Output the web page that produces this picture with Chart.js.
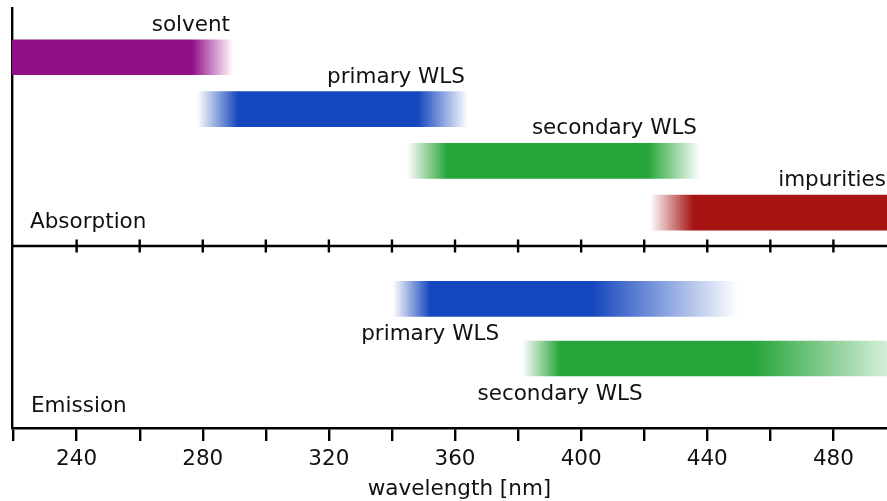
<!DOCTYPE html>
<html><head><meta charset="utf-8">
<script src="https://cdn.jsdelivr.net/npm/chart.js@4.4.0/dist/chart.umd.min.js"></script>
<style>
html,body{margin:0;padding:0;background:#fff;}
#wrap{position:relative;width:887px;height:501px;overflow:hidden;background:#fff;}
#c1{position:absolute;left:0;top:0;}
#c2{position:absolute;left:0;top:236px;}
</style></head><body>
<div id="wrap">
<canvas id="c1" width="887" height="256"></canvas>
<canvas id="c2" width="887" height="265"></canvas>
</div>
<script>
// ---- data (wavelength in nm) ----
const absCategories = ['solvent', 'primary WLS', 'secondary WLS', 'impurities'];
const absFadeStart  = [205,   278.2, 344.8, 421.8];
const absSolidStart = [205,   291.2, 357.5, 435.5];
const absSolidEnd   = [276.6, 348.3, 421.2, 520];
const absFadeEnd    = [289.6, 364.1, 437.7, 520];
const absColors     = ['146,16,134', '21,71,190', '38,165,58', '168,20,20'];

const emCategories  = ['primary WLS', 'secondary WLS'];
const emFadeStart   = [340.3, 381.3];
const emSolidStart  = [352.1, 393.3];
const emSolidEnd    = [403.8, 454.5];
const emFadeEnd     = [449.8, 507];
const emColors      = ['21,71,190', '38,165,58'];

const tickValues = [220, 240, 260, 280, 300, 320, 340, 360, 380, 400, 420, 440, 460, 480];
const tickLabels = [240, 280, 320, 360, 400, 440, 480];

const X_MIN = 219.5, X_MAX = 497;
const FONT = '21.5px "DejaVu Sans"';
const TEXT = '#111';
const LW = 2.4;

function makeFill(fs, ss, se, fe, cols) {
  return function (ctx) {
    const chart = ctx.chart;
    const i = ctx.dataIndex;
    if (!chart.chartArea || i === undefined) return 'rgba(0,0,0,0)';
    const xs = chart.scales.x;
    const p0 = xs.getPixelForValue(fs[i]), p1 = xs.getPixelForValue(ss[i]);
    const p2 = xs.getPixelForValue(se[i]), p3 = xs.getPixelForValue(fe[i]);
    const w = p3 - p0, c = cols[i];
    const g = chart.ctx.createLinearGradient(p0, 0, p3, 0);
    g.addColorStop(0, `rgba(${c},${fs[i] === ss[i] ? 1 : 0})`);
    g.addColorStop(Math.max(0, (p1 - p0) / w), `rgba(${c},1)`);
    g.addColorStop(Math.min(1, (p2 - p0) / w), `rgba(${c},1)`);
    g.addColorStop(1, `rgba(${c},${se[i] === fe[i] ? 1 : 0})`);
    return g;
  };
}

const hiddenY = (min, max) => ({
  type: 'linear', min, max, reverse: true, offset: false, display: true,
  grid: { display: false, drawTicks: false },
  ticks: { display: false },
  border: { display: true, color: '#000', width: LW }
});

// ---- top panel: Absorption ----
const topPlugin = {
  id: 'topDecor',
  afterDraw(chart) {
    const { ctx, chartArea: a, scales: { x, y } } = chart;
    ctx.save();
    ctx.strokeStyle = '#000';
    ctx.lineWidth = LW;
    ctx.beginPath();
    ctx.moveTo(a.left - 1, a.bottom);
    ctx.lineTo(a.right, a.bottom);
    tickValues.forEach(v => {
      if (v === tickValues[0]) return;
      const px = x.getPixelForValue(v);
      ctx.moveTo(px, a.bottom - 6.5);
      ctx.lineTo(px, a.bottom + 6.5);
    });
    ctx.stroke();
    ctx.fillStyle = TEXT;
    ctx.font = FONT;
    ctx.textBaseline = 'alphabetic';
    ctx.textAlign = 'right';
    absCategories.forEach((name, i) => {
      const px = Math.min(x.getPixelForValue(absFadeEnd[i]), a.right + 2) - 3;
      ctx.fillText(name, px, y.getPixelForValue(i) - 26.5);
    });
    ctx.textAlign = 'left';
    ctx.fillText('Absorption', a.left + 18, a.bottom - 18);
    ctx.restore();
  }
};

new Chart(document.getElementById('c1'), {
  type: 'bar',
  data: {
    labels: absCategories,
    datasets: [{
      data: absCategories.map((c, i) => ({ y: i, x: [absFadeStart[i], absFadeEnd[i]] })),
      backgroundColor: makeFill(absFadeStart, absSolidStart, absSolidEnd, absFadeEnd, absColors),
      borderWidth: 0,
      barThickness: 35
    }]
  },
  options: {
    indexAxis: 'y', responsive: false, animation: false, events: [],
    layout: { padding: { left: 12, right: 0, top: 8, bottom: 10 } },
    plugins: { legend: { display: false }, tooltip: { enabled: false } },
    scales: {
      x: { type: 'linear', min: X_MIN, max: X_MAX, display: false },
      y: hiddenY(-0.952, 3.645)
    }
  },
  plugins: [topPlugin]
});

// ---- bottom panel: Emission ----
const botPlugin = {
  id: 'botDecor',
  afterDraw(chart) {
    const { ctx, chartArea: a, scales: { x, y } } = chart;
    ctx.save();
    ctx.fillStyle = TEXT;
    ctx.font = FONT;
    ctx.textBaseline = 'alphabetic';
    ctx.textAlign = 'center';
    emCategories.forEach((name, i) => {
      ctx.fillText(name, x.getPixelForValue(emSolidStart[i]), y.getPixelForValue(i) + 41.5);
    });
    ctx.textAlign = 'left';
    ctx.fillText('Emission', a.left + 19, a.bottom - 16.5);
    ctx.textAlign = 'center';
    ctx.fillText('wavelength [nm]', (a.left + a.right) / 2 + 10, chart.height - 6);
    ctx.restore();
  }
};

new Chart(document.getElementById('c2'), {
  type: 'bar',
  data: {
    labels: emCategories,
    datasets: [{
      data: emCategories.map((c, i) => ({ y: i, x: [emFadeStart[i], emFadeEnd[i]] })),
      backgroundColor: makeFill(emFadeStart, emSolidStart, emSolidEnd, emFadeEnd, emColors),
      borderWidth: 0,
      barThickness: 35
    }]
  },
  options: {
    indexAxis: 'y', responsive: false, animation: false, events: [],
    layout: { padding: { left: 12, right: 0, top: 10, bottom: 0 } },
    plugins: { legend: { display: false }, tooltip: { enabled: false } },
    scales: {
      x: {
        type: 'linear', min: X_MIN, max: X_MAX, position: 'bottom',
        afterBuildTicks: s => { s.ticks = tickValues.map(v => ({ value: v })); },
        afterFit: s => { s.height = 73; },
        ticks: {
          autoSkip: false, maxRotation: 0, padding: 6, color: TEXT,
          font: { family: 'DejaVu Sans', size: 21.5 },
          callback: v => tickLabels.includes(v) ? String(v) : ''
        },
        grid: { display: true, drawOnChartArea: false, drawTicks: true, tickLength: 13, color: '#000', lineWidth: LW },
        border: { display: true, color: '#000', width: LW }
      },
      y: hiddenY(-0.888, 2.166)
    }
  },
  plugins: [botPlugin]
});
</script>
</body></html>
